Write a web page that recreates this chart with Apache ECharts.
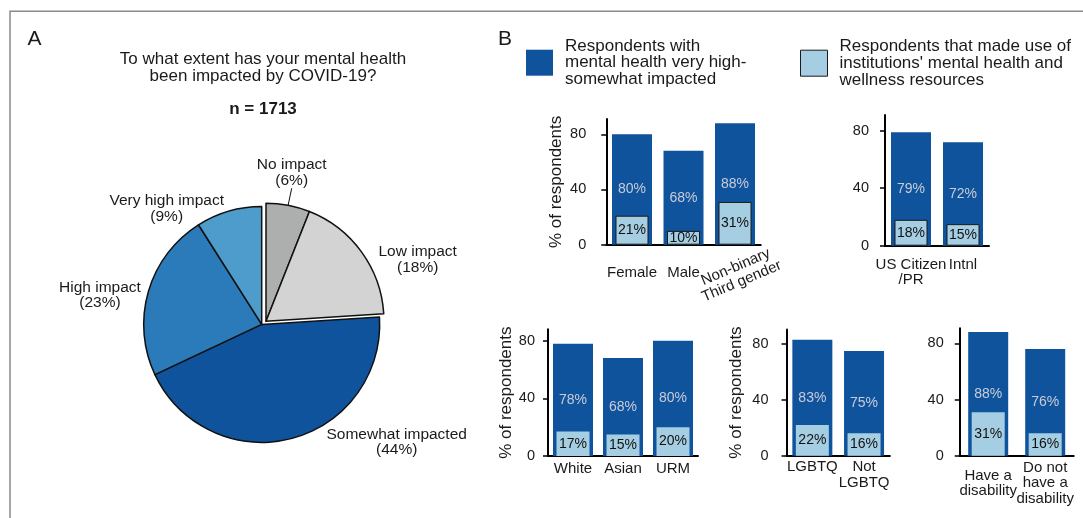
<!DOCTYPE html>
<html>
<head>
<meta charset="utf-8">
<script src="https://cdn.jsdelivr.net/npm/echarts@6/dist/echarts.min.js"></script>
<style>
  html, body { margin: 0; padding: 0; background: #fff; }
  #chart { width: 1083px; height: 518px; }
</style>
</head>
<body>
<div id="chart"></div>
<script>
const FONT = '"Liberation Sans", Arial, Helvetica, sans-serif';

// ---- Panel A: impact of COVID-19 on mental health ----
const impactLevels = ['No impact', 'Low impact', 'Somewhat impacted', 'High impact', 'Very high impact'];
const impactShares = [6, 18, 44, 23, 9];
const sampleSize = 1713;

// ---- Panel B: impacted vs. used institutional resources ----
const impactedName = 'Respondents with\nmental health very high-\nsomewhat impacted';
const usedName = "Respondents that made use of\ninstitutions' mental health and\nwellness resources";

const genderCategories = ['Female', 'Male', 'Non-binary\nThird gender'];
const genderImpacted = [80, 68, 88];
const genderUsed = [21, 10, 31];

const citizenCategories = ['US Citizen\n/PR', 'Intnl'];
const citizenImpacted = [79, 72];
const citizenUsed = [18, 15];

const raceCategories = ['White', 'Asian', 'URM'];
const raceImpacted = [78, 68, 80];
const raceUsed = [17, 15, 20];

const lgbtqCategories = ['LGBTQ', 'Not\nLGBTQ'];
const lgbtqImpacted = [83, 75];
const lgbtqUsed = [22, 16];

const disabilityCategories = ['Have a\ndisability', 'Do not\nhave a\ndisability'];
const disabilityImpacted = [88, 76];
const disabilityUsed = [31, 16];

const yTickValues = [0, 40, 80];

// ---- styling ----
const DARK_BLUE = '#0f539c';
const LIGHT_BLUE = '#a6cee3';
const sliceColors = {
  'No impact': '#adaeae',
  'Low impact': '#d3d3d3',
  'Somewhat impacted': DARK_BLUE,
  'High impact': '#2b7bba',
  'Very high impact': '#4d9ccc'
};
// slices pulled out of the pie as a group
const pulledOut = ['No impact', 'Low impact'];
// where each slice caption sits
const sliceCaptionAt = {
  'No impact': [291.7, 172.5],
  'Low impact': [417.7, 259.8],
  'Somewhat impacted': [396.7, 442],
  'High impact': [100, 295.3],
  'Very high impact': [166.7, 208.8]
};

function pieSeries(center, group) {
  return {
    type: 'pie',
    center: center,
    radius: 118,
    startAngle: 90,
    clockwise: true,
    avoidLabelOverlap: false,
    silent: true,
    emphasis: { disabled: true },
    label: {
      show: true,
      position: 'outside',
      formatter: p => p.name + '\n(' + p.value + '%)',
      fontFamily: FONT,
      fontSize: 15.5,
      lineHeight: 15.5,
      color: '#1a1a1a'
    },
    labelLine: { show: false },
    labelLayout: function (params) {
      const at = sliceCaptionAt[impactLevels[params.dataIndex]];
      return { x: at[0], y: at[1], align: 'center', verticalAlign: 'middle' };
    },
    data: impactLevels.map((name, i) => {
      const inGroup = group.indexOf(name) >= 0;
      const item = { name: name, value: impactShares[i] };
      if (inGroup) {
        item.itemStyle = { color: sliceColors[name], borderColor: '#111', borderWidth: 1.5 };
        if (name === 'No impact') {
          item.labelLine = { show: true, length: 6, length2: 0, lineStyle: { color: '#111', width: 1 } };
        }
      } else {
        item.itemStyle = { color: 'rgba(0,0,0,0)', borderWidth: 0 };
        item.label = { show: false };
      }
      return item;
    })
  };
}

const inPlace = impactLevels.filter(n => pulledOut.indexOf(n) < 0);

// ---- bar panels ----
const panels = [
  { cats: genderCategories, impacted: genderImpacted, used: genderUsed,
    grid: { left: 606.25, top: 119.1, width: 154.5, height: 125.6 }, max: 91,
    yName: '% of respondents', nameGap: 41, yLabelMargin: 20,
    xLabelMargin: 20, xVAlign: 'top', rotated: 2, outlined: true },
  { cats: citizenCategories, impacted: citizenImpacted, used: citizenUsed,
    grid: { left: 885, top: 114.9, width: 104, height: 130.8 }, max: 91,
    yName: '', nameGap: 0, yLabelMargin: 16,
    xLabelMargin: 11, xVAlign: 'top', rotated: -1, outlined: true },
  { cats: raceCategories, impacted: raceImpacted, used: raceUsed,
    grid: { left: 548, top: 329.3, width: 150, height: 126.7 }, max: 88,
    yName: '% of respondents', nameGap: 33, yLabelMargin: 13,
    xLabelMargin: 5, xVAlign: 'top', rotated: -1, outlined: false },
  { cats: lgbtqCategories, impacted: lgbtqImpacted, used: lgbtqUsed,
    grid: { left: 786.5, top: 329.4, width: 103.4, height: 126.3 }, max: 90.5,
    yName: '% of respondents', nameGap: 41.5, yLabelMargin: 18,
    xLabelMargin: 3.5, xVAlign: 'top', rotated: -1, outlined: false },
  { cats: disabilityCategories, impacted: disabilityImpacted, used: disabilityUsed,
    grid: { left: 959.7, top: 328.3, width: 114, height: 127.4 }, max: 90.7,
    yName: '', nameGap: 0, yLabelMargin: 16,
    xLabelMargin: 27.5, xVAlign: 'middle', rotated: -1, outlined: false }
];

const grids = [], xAxes = [], yAxes = [], barSeries = [];

panels.forEach((p, i) => {
  grids.push(Object.assign({ containLabel: false }, p.grid));

  const textBase = { fontFamily: FONT, fontSize: 15, lineHeight: 15.5, color: '#1a1a1a' };

  // axis carrying the dark bars and the upright labels
  xAxes.push({
    type: 'category', gridIndex: i, position: 'bottom', data: p.cats,
    axisLine: { lineStyle: { color: '#000', width: 2 } },
    axisTick: { show: false },
    axisLabel: Object.assign({}, textBase, {
      interval: 0, margin: p.xLabelMargin, verticalAlign: p.xVAlign,
      formatter: (v, idx) => idx === p.rotated ? '' : v
    })
  });
  // companion axis carrying the light bars (and a slanted label where needed)
  xAxes.push({
    type: 'category', gridIndex: i, position: 'bottom', data: p.cats,
    show: p.rotated >= 0,
    axisLine: { show: false },
    axisTick: { show: false },
    axisLabel: Object.assign({}, textBase, {
      interval: 0, rotate: 23, align: 'center', verticalAlign: 'middle', margin: 31,
      padding: [0, 0, 0, 8],
      formatter: (v, idx) => idx === p.rotated ? v : ''
    })
  });

  yAxes.push({
    type: 'value', gridIndex: i, position: 'left', min: 0, max: p.max,
    name: p.yName, nameLocation: 'middle', nameGap: p.nameGap,
    nameTextStyle: { fontFamily: FONT, fontSize: 17, color: '#1a1a1a' },
    axisLine: { show: true, lineStyle: { color: '#000', width: 2 } },
    axisTick: { show: true, length: 5, lineStyle: { color: '#000', width: 1.5 }, customValues: yTickValues },
    axisLabel: { customValues: yTickValues, margin: p.yLabelMargin, fontFamily: FONT, fontSize: 14.5, color: '#1a1a1a' },
    splitLine: { show: false }
  });

  barSeries.push({
    type: 'bar', name: impactedName, xAxisIndex: 2 * i, yAxisIndex: i,
    data: p.impacted, barWidth: 40, silent: true,
    itemStyle: { color: DARK_BLUE },
    label: { show: true, position: 'inside', formatter: '{c}%', fontFamily: FONT, fontSize: 14, color: '#c9ccd8' }
  });
  barSeries.push({
    type: 'bar', name: usedName, xAxisIndex: 2 * i + 1, yAxisIndex: i,
    data: p.used, barWidth: 33, silent: true,
    itemStyle: p.outlined
      ? { color: LIGHT_BLUE, borderColor: '#1a1a1a', borderWidth: 1 }
      : { color: LIGHT_BLUE, borderWidth: 0 },
    label: { show: true, position: 'inside', formatter: '{c}%', fontFamily: FONT, fontSize: 14, color: '#111' }
  });
});

const legendBase = {
  orient: 'horizontal', icon: 'rect', itemWidth: 27, itemHeight: 26,
  padding: 0, selectedMode: false,
  textStyle: { fontFamily: FONT, fontSize: 17, lineHeight: 16.7, color: '#1a1a1a', padding: [0, 0, 0, 7] }
};

function centeredText(text, x, y, size, weight, lh) {
  return {
    type: 'text', x: x, y: y, silent: true,
    style: {
      text: text, fontFamily: FONT, fontSize: size, fontWeight: weight || 'normal',
      lineHeight: lh || size, fill: '#1a1a1a',
      align: 'center', verticalAlign: 'middle', textAlign: 'center', textVerticalAlign: 'middle'
    }
  };
}

const option = {
  animation: false,
  backgroundColor: '#fff',
  textStyle: { fontFamily: FONT },
  legend: [
    Object.assign({}, legendBase, { data: [impactedName], left: 526, top: 37.5, itemStyle: { borderWidth: 0 } }),
    Object.assign({}, legendBase, { data: [usedName], left: 800, top: 38, itemStyle: { borderColor: '#1a1a1a', borderWidth: 1 } })
  ],
  grid: grids,
  xAxis: xAxes,
  yAxis: yAxes,
  series: [
    pieSeries([261.7, 324.4], inPlace),
    pieSeries([266, 321.2], pulledOut)
  ].concat(barSeries),
  graphic: [
    { type: 'polyline', silent: true,
      shape: { points: [[10, 518], [10, 11.25], [1083, 11.25]] },
      style: { stroke: '#8a8a8a', lineWidth: 1.5, fill: null } },
    centeredText('A', 34.5, 39.5, 21),
    centeredText('B', 505, 39, 21),
    centeredText('To what extent has your mental health\nbeen impacted by COVID-19?', 263, 67.8, 17, 'normal', 17),
    centeredText('n = ' + sampleSize, 263, 109.3, 17, 'bold')
  ]
};

const chart = echarts.init(document.getElementById('chart'), null, { renderer: 'canvas' });
chart.setOption(option);
</script>
</body>
</html>
